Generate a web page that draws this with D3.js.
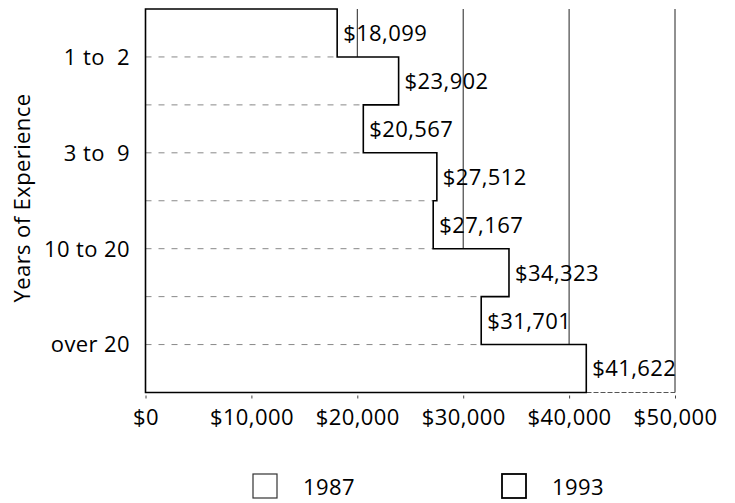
<!DOCTYPE html>
<html>
<head>
<meta charset="utf-8">
<script src="https://cdn.jsdelivr.net/npm/d3@7"></script>
<style>
  body { margin: 0; background: #fff; }
  text { font-family: "Open Sans", sans-serif; fill: #000; letter-spacing: 0.4px; }
</style>
</head>
<body>
<div id="chart"></div>
<script>
const categories = ['1 to  2', '3 to  9', '10 to 20', 'over 20'];
const years = ['1987', '1993'];
const salary1987 = [18099, 20567, 27167, 31701];
const salary1993 = [23902, 27512, 34323, 41622];
const xTicks = [0, 10000, 20000, 30000, 40000, 50000];

const width = 735, height = 503;
const margin = { top: 9, right: 60, bottom: 111, left: 145.5 };
const fontSize = '22px';

// flatten into bar order: each category has a 1987 bar then a 1993 bar
const bars = [];
categories.forEach((c, i) => {
  bars.push({ cat: c, year: years[0], value: salary1987[i] });
  bars.push({ cat: c, year: years[1], value: salary1993[i] });
});

const svg = d3.select('#chart')
  .append('svg')
  .attr('width', width)
  .attr('height', height);

const x = d3.scaleLinear()
  .domain([0, 50000])
  .range([margin.left, 675]);

const y = d3.scaleBand()
  .domain(categories)
  .range([margin.top, height - margin.bottom + 0.5])
  .padding(0);

const yInner = d3.scaleBand()
  .domain(years)
  .range([0, y.bandwidth()]);

const barTop = d => y(d.cat) + yInner(d.year);
const barBottom = d => barTop(d) + yInner.bandwidth();
const bottomY = y.range()[1];

// vertical grid lines (behind the white bars)
svg.append('g')
  .selectAll('line')
  .data(xTicks.filter(t => t > 0))
  .enter()
  .append('line')
  .attr('x1', d => x(d)).attr('x2', d => x(d))
  .attr('y1', margin.top).attr('y2', bottomY)
  .attr('stroke', '#222')
  .attr('stroke-width', 1);

// x axis line, dashed where it is not covered by the bars
svg.append('line')
  .attr('x1', x(0)).attr('x2', x(50000))
  .attr('y1', bottomY).attr('y2', bottomY)
  .attr('stroke', '#555')
  .attr('stroke-dasharray', '5,2');

// white bars
svg.append('g')
  .selectAll('rect')
  .data(bars)
  .enter()
  .append('rect')
  .attr('x', x(0))
  .attr('y', d => barTop(d))
  .attr('width', d => x(d.value) - x(0))
  .attr('height', yInner.bandwidth())
  .attr('fill', '#fff');

// dashed dividers between neighbouring bars
svg.append('g')
  .selectAll('line')
  .data(bars.slice(0, -1))
  .enter()
  .append('line')
  .attr('x1', x(0))
  .attr('x2', (d, i) => x(Math.min(d.value, bars[i + 1].value)))
  .attr('y1', d => barBottom(d)).attr('y2', d => barBottom(d))
  .attr('stroke', '#888')
  .attr('stroke-width', 1)
  .attr('stroke-dasharray', '6,7');

// stepped outline around all bars
const pts = [[x(0), barTop(bars[0])]];
bars.forEach(d => {
  pts.push([x(d.value), barTop(d)]);
  pts.push([x(d.value), barBottom(d)]);
});
pts.push([x(0), barBottom(bars[bars.length - 1])]);

svg.append('path')
  .attr('d', d3.line()(pts) + 'Z')
  .attr('fill', 'none')
  .attr('stroke', '#000')
  .attr('stroke-width', 1.6);

// value labels
svg.append('g')
  .selectAll('text')
  .data(bars)
  .enter()
  .append('text')
  .attr('x', d => x(d.value) + 6)
  .attr('y', d => barTop(d) + yInner.bandwidth() / 2)
  .attr('dy', '0.36em')
  .style('font-size', fontSize)
  .text(d => '$' + d3.format(',')(d.value));

// x axis ticks and labels
const xAxis = svg.append('g')
  .attr('transform', `translate(0, ${bottomY})`)
  .call(d3.axisBottom(x).tickValues(xTicks).tickSize(6).tickPadding(11)
    .tickFormat(d => '$' + d3.format(',')(d)));
xAxis.select('.domain').remove();
xAxis.selectAll('.tick line').attr('stroke', '#444').attr('y1', 3);
xAxis.selectAll('.tick text')
  .style('font-size', fontSize)
  .style('font-family', '"Open Sans", sans-serif')
  .attr('fill', '#000');

// category labels
svg.append('g')
  .selectAll('text')
  .data(categories)
  .enter()
  .append('text')
  .attr('x', 130)
  .attr('y', d => y(d) + y.bandwidth() / 2)
  .attr('dy', '0.36em')
  .attr('text-anchor', 'end')
  .style('white-space', 'pre')
  .style('font-size', fontSize)
  .text(d => d);

// y axis title
svg.append('text')
  .attr('transform', 'translate(22, 198) rotate(-90)')
  .attr('text-anchor', 'middle')
  .attr('dy', '0.36em')
  .style('font-size', fontSize)
  .text('Years of Experience');

// legend
const legendX = [253, 502];
const legend = svg.append('g')
  .selectAll('g')
  .data(years)
  .enter()
  .append('g')
  .attr('transform', (d, i) => `translate(${legendX[i]}, 474)`);

legend.append('rect')
  .attr('width', 24)
  .attr('height', 24)
  .attr('fill', '#fff')
  .attr('stroke', (d, i) => i === 0 ? '#333' : '#000')
  .attr('stroke-width', (d, i) => i === 0 ? 1.2 : 1.8);

legend.append('text')
  .attr('x', 50)
  .attr('y', 13)
  .attr('dy', '0.36em')
  .style('font-size', fontSize)
  .text(d => d);
</script>
</body>
</html>
